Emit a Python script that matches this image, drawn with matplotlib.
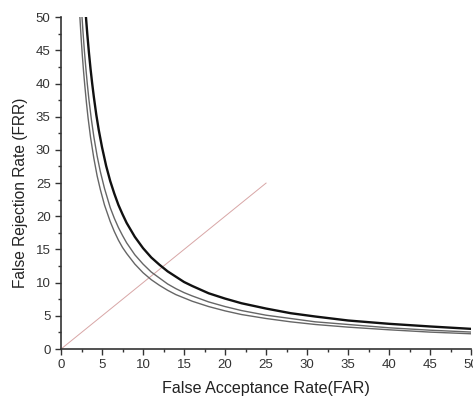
import matplotlib
matplotlib.use('Agg')
import matplotlib.pyplot as plt
from matplotlib.ticker import MultipleLocator

plt.rcParams['font.family'] = ['Liberation Sans', 'DejaVu Sans']

# curves (FAR, FRR)
far_a = [3.04, 3.2, 3.4, 3.6, 3.8, 4, 4.3, 4.6, 5, 5.5, 6, 6.5, 7, 7.5, 8, 9, 10,
         11, 12, 13, 14, 15, 16, 18, 20, 22, 25, 28, 31, 35, 40, 45, 50]
frr_a = [50, 47.5, 44.7, 42.2, 40, 38, 35.3, 33, 30.4, 27.6, 25.3, 23.4, 21.7, 20.3, 19, 16.9, 15.2,
         13.8, 12.7, 11.7, 10.9, 10.1, 9.5, 8.4, 7.6, 6.9, 6.1, 5.4, 4.9, 4.3, 3.8, 3.4, 3.04]

far_b = [2.56, 2.7, 2.85, 3.0, 3.2, 3.4, 3.7, 4, 4.4, 4.8, 5.3, 6, 6.5, 7, 7.5, 8, 9,
         10, 11, 12, 13, 14, 15, 16, 18, 20, 22, 25, 28, 31, 35, 40, 45, 50]
frr_b = [50, 47.4, 44.9, 42.7, 40, 37.6, 34.6, 32, 29.1, 26.7, 24.2, 21.3, 19.7, 18.3, 17.1, 16, 14.2,
         12.8, 11.6, 10.7, 9.8, 9.1, 8.5, 8.0, 7.1, 6.4, 5.8, 5.1, 4.6, 4.1, 3.7, 3.2, 2.84, 2.56]

far_c = [2.3, 2.45, 2.6, 2.75, 2.9, 3.1, 3.3, 3.6, 4, 4.4, 4.8, 5.3, 6, 6.5, 7, 7.5, 8, 9,
         10, 11, 12, 13, 14, 15, 16, 18, 20, 22, 25, 28, 31, 35, 40, 45, 50]
frr_c = [50, 46.9, 44.2, 41.8, 39.7, 37.1, 34.8, 31.9, 28.75, 26.1, 24.0, 21.7, 19.2, 17.7, 16.4, 15.3, 14.4, 12.8,
         11.5, 10.45, 9.6, 8.85, 8.2, 7.7, 7.2, 6.4, 5.75, 5.2, 4.6, 4.1, 3.7, 3.3, 2.9, 2.55, 2.3]

eer_x = [0, 25]
eer_y = [0, 25]

fig = plt.figure(figsize=(4.73, 3.98), dpi=100)
ax = fig.add_axes([0.129, 0.123, 0.867, 0.834])

ax.plot(eer_x, eer_y, color='#d8a6a6', lw=0.7)
ax.plot(far_c, frr_c, color='#666666', lw=1.0)
ax.plot(far_b, frr_b, color='#666666', lw=1.0)
ax.plot(far_a, frr_a, color='#111111', lw=1.7)

ax.set_xlim(0, 50)
ax.set_ylim(0, 50)
ax.xaxis.set_major_locator(MultipleLocator(5))
ax.xaxis.set_minor_locator(MultipleLocator(2.5))
ax.yaxis.set_major_locator(MultipleLocator(5))
ax.yaxis.set_minor_locator(MultipleLocator(2.5))
ax.tick_params(which='major', direction='out', length=4, width=1, labelsize=9.5, colors='#333333')
ax.tick_params(which='minor', direction='out', length=2.5, width=1, colors='#333333')
for s in ['top', 'right']:
    ax.spines[s].set_visible(False)
for s in ['left', 'bottom']:
    ax.spines[s].set_color('#333333')
    ax.spines[s].set_linewidth(1.2)

ax.set_xlabel('False Acceptance Rate(FAR)', fontsize=11.6, color='#222222', labelpad=7)
ax.set_ylabel('False Rejection Rate (FRR)', fontsize=11.2, color='#222222')
ax.yaxis.set_label_coords(-0.08, 0.47)

fig.savefig('out.png', dpi=100)
